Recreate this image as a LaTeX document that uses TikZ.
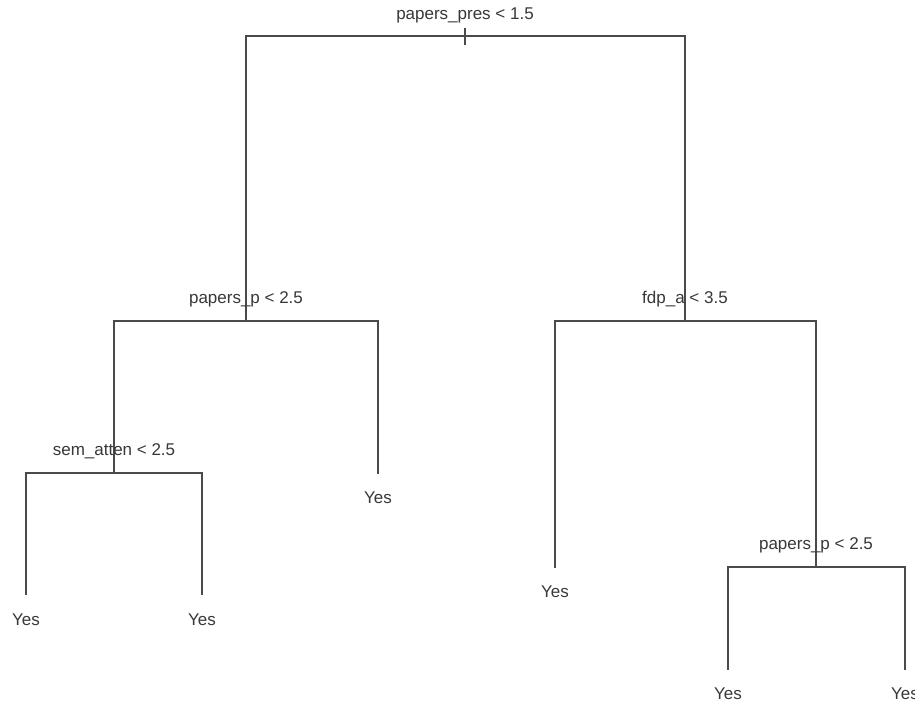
\documentclass[tikz,border=0pt]{standalone}
\usepackage{fontspec}
\setmainfont{Liberation Sans}
\definecolor{edgegray}{HTML}{4A4A4A}
\definecolor{labelgray}{HTML}{383838}
\begin{document}
\begin{tikzpicture}[x=1pt,y=-1pt,
  branch/.style={draw=edgegray,line width=1.5pt,line cap=rect},
  split/.style={font=\fontsize{17}{17}\selectfont,text=labelgray,anchor=base,inner sep=0pt},
  leaf/.style={font=\fontsize{17}{17}\selectfont,text=labelgray,anchor=base,inner sep=0pt}]
\useasboundingbox (0,0) rectangle (915,701);
\fill[white] (0,0) rectangle (915,701);

% split points
\coordinate (root) at (465,36);
\coordinate (rootL) at (246,36);
\coordinate (rootR) at (685,36);
\coordinate (pp) at (246,321);
\coordinate (ppL) at (114,321);
\coordinate (ppR) at (378,321);
\coordinate (fd) at (685,321);
\coordinate (fdL) at (555,321);
\coordinate (fdR) at (816,321);
\coordinate (sa) at (114,473);
\coordinate (saL) at (26,473);
\coordinate (saR) at (202,473);
\coordinate (pq) at (816,567);
\coordinate (pqL) at (728,567);
\coordinate (pqR) at (905,567);
% leaf ends
\coordinate (l1) at (26,594);
\coordinate (l2) at (202,594);
\coordinate (l3) at (378,473);
\coordinate (l4) at (555,567);
\coordinate (l5) at (728,669);
\coordinate (l6) at (905,669);

% tree branches
\draw[branch] (rootL) -- (rootR);
\draw[branch] (465,29) -- (465,44);
\draw[branch] (rootL) -- (pp);
\draw[branch] (rootR) -- (fd);
\draw[branch] (ppL) -- (ppR);
\draw[branch] (fdL) -- (fdR);
\draw[branch] (ppL) -- (sa);
\draw[branch] (ppR) -- (l3);
\draw[branch] (fdL) -- (l4);
\draw[branch] (fdR) -- (pq);
\draw[branch] (saL) -- (saR);
\draw[branch] (saL) -- (l1);
\draw[branch] (saR) -- (l2);
\draw[branch] (pqL) -- (pqR);
\draw[branch] (pqL) -- (l5);
\draw[branch] (pqR) -- (l6);

% split labels (raised above their split lines)
\node[split] (t0) at ([yshift=16]root) {papers\_pres < 1.5};
\node[split] (t1) at ([yshift=18]pp) {papers\_p < 2.5};
\node[split] (t2) at ([yshift=18]fd) {fdp\_a < 3.5};
\node[split] (t3) at ([yshift=18]sa) {sem\_atten < 2.5};
\node[split] (t4) at ([yshift=18]pq) {papers\_p < 2.5};

% leaf labels (below the leaf ends)
\node[leaf] (y1) at ([yshift=-31]l1) {Yes};
\node[leaf] (y2) at ([yshift=-31]l2) {Yes};
\node[leaf] (y3) at ([yshift=-30]l3) {Yes};
\node[leaf] (y4) at ([yshift=-30]l4) {Yes};
\node[leaf] (y5) at ([yshift=-30]l5) {Yes};
\node[leaf] (y6) at ([yshift=-30]l6) {Yes};
\end{tikzpicture}
\end{document}
